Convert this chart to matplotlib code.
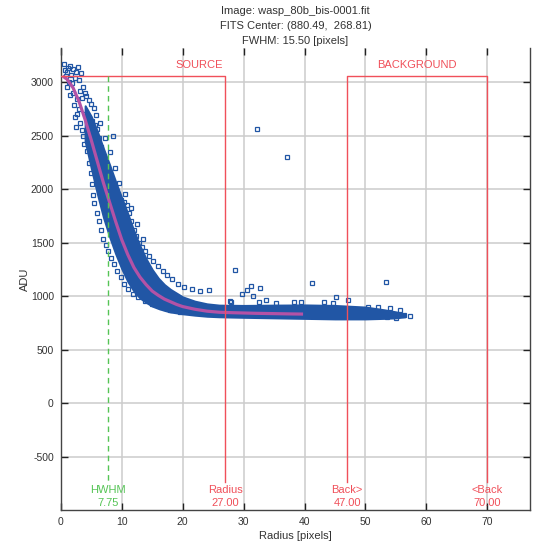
"""
Radial profile plot (AstroImageJ style) for wasp_80b_bis-0001.fit
"""

import matplotlib
matplotlib.use("Agg")
import matplotlib.pyplot as plt

plt.rcParams["font.family"] = ["Liberation Sans", "DejaVu Sans"]
plt.rcParams["axes.unicode_minus"] = False

# --- data --------------------------------------------------------------
title_lines = [
    "Image: wasp_80b_bis-0001.fit",
    "FITS Center: (880.49,  268.81)",
    "FWHM: 15.50 [pixels]",
]

# mean radial profile (magenta line)
mean_r = [0.5, 1, 2, 3, 4, 5, 6, 7, 8, 9, 10, 11, 12, 13, 14, 15, 16, 17, 18, 19,
          20, 22, 24, 26, 28, 30, 32, 34, 36, 38, 39.5]
mean_adu = [3050, 3030, 2950, 2820, 2650, 2460, 2260, 2060, 1880, 1700, 1530, 1390,
            1270, 1180, 1110, 1050, 1010, 975, 950, 925, 905, 880, 862, 852, 848,
            845, 842, 840, 838, 836, 835]

# dense core of pixel samples (solid blue band)
band_r = [4, 5, 6, 7, 8, 9, 10, 11, 12, 13, 14, 15, 16, 17, 18, 20, 22, 24,
          26, 30, 35, 40, 45, 50, 53, 55, 56.5]
band_low = [2450, 2200, 1960, 1740, 1560, 1400, 1260, 1140, 1050, 985,
            945, 910, 888, 870, 855, 838, 825, 815, 810, 805, 800, 795, 790, 790,
            795, 800, 810]
band_high = [2780, 2680, 2540, 2380, 2230, 2070, 1920, 1770, 1610, 1470,
             1350, 1250, 1170, 1110, 1065, 995, 955, 930, 918, 915, 918, 920, 915,
             900, 875, 855, 835]

# individual pixel samples (open squares)
pix_r = [0.6, 1.2, 1.5, 2.0, 2.5, 2.8, 3.3, 0.9, 1.3, 1.8, 3.0, 3.6, 3.9, 4.2, 4.6,
         4.9, 5.4, 5.8, 1.5, 2.2, 2.6, 3.1, 3.4, 2.5, 3.8, 4.3,
         5.2, 5.6, 6.0, 6.2, 8.6, 6.6, 7.0, 7.4, 7.7, 8.2, 8.7, 9.2, 9.8, 10.4, 10.8,
         11.2, 11.6, 12.0, 12.4, 12.9, 13.3, 13.8, 14.5, 15.2, 16.0, 16.8, 17.4, 18.3,
         19.2, 20.2, 21.5, 22.8,
         4.6, 4.9, 5.1, 5.3, 5.5, 5.9, 6.2, 6.6, 7.0, 7.4, 7.8, 8.3, 8.8, 9.3, 9.8,
         10.4, 11.0, 11.8, 12.7, 13.8, 15.0, 16.5, 18.0, 19.5,
         1.0, 2.3, 3.5, 4.0, 2.0, 3.0, 1.1, 2.7, 0.7, 1.7, 3.2, 4.4, 2.4, 3.7,
         6.4, 7.2, 8.0, 8.9, 9.6, 10.6, 11.5, 12.5, 13.5,
         32.2, 37.2, 28.6, 24.3, 29.7, 30.6, 31.2, 31.6, 32.7, 32.6, 33.7, 41.3, 45.1,
         53.3, 47.2, 27.9, 35.4, 38.2, 39.5, 43.2, 44.7, 27.8,
         50.5, 52.0, 54.0, 55.6, 56.4, 57.3, 55.0, 53.5]
pix_adu = [3170, 3130, 3150, 3120, 3100, 3140, 3090, 3060, 3000, 2990, 3020, 2960,
           2900, 2870, 2830, 2800, 2757, 2695, 2880, 2790, 2700, 2620, 2550, 2580,
           2420, 2360,
           2640, 2600, 2560, 2480, 2500, 2400, 2300, 2220, 2150, 2080, 2000, 1950,
           1900, 1880, 1850, 1780, 1700, 1620, 1560, 1500, 1460, 1420, 1380, 1330,
           1280, 1240, 1200, 1160, 1120, 1090, 1070, 1050,
           2250, 2150, 2050, 1950, 1870, 1780, 1700, 1620, 1540, 1480, 1420, 1360,
           1300, 1240, 1180, 1120, 1070, 1020, 990, 960, 930, 900, 875, 855,
           3100, 3040, 2850, 2700, 2900, 2750, 2960, 2840, 3110, 3070, 2920, 2620,
           2680, 2500,
           2620, 2480, 2350, 2200, 2060, 1960, 1830, 1680, 1540,
           2560, 2306, 1242, 1061, 1021, 1061, 1099, 1008, 1080, 952, 968, 1124, 993,
           1133, 962, 947, 937, 947, 952, 943, 937, 958,
           905, 900, 890, 870, 830, 815, 800, 805]

# apertures
hwhm = 7.75
r_source = 27.00
r_back_in = 47.00
r_back_out = 70.00
ap_level = 3059
ap_bottom = -731

x_ticks = [0, 10, 20, 30, 40, 50, 60, 70]
y_ticks = [-500, 0, 500, 1000, 1500, 2000, 2500, 3000]

# --- styling -------------------------------------------------------------
BLUE = "#2156a5"
MAGENTA = "#b352a6"
RED = "#f0505a"
GREEN = "#55c455"
GRID = "#cccccc"
TXT = "#333333"

fig = plt.figure(figsize=(5.37, 5.43), dpi=100)
ax = fig.add_axes([0.1132, 0.0608, 0.8737, 0.8508])

ax.set_xlim(0, 77)
ax.set_ylim(-995, 3320)
ax.set_xticks(x_ticks)
ax.set_yticks(y_ticks)
ax.grid(True, color=GRID, linewidth=1.1, zorder=0)
ax.set_axisbelow(True)
ax.tick_params(direction="in", length=5, width=1, top=True, right=True,
               labelsize=7.5, labelcolor=TXT, color="#222222", pad=5)
for s in ax.spines.values():
    s.set_color("#444444")
    s.set_linewidth(1.0)
ax.spines["top"].set_visible(False)

# pixel samples
ax.fill_between(band_r, band_low, band_high, color=BLUE, linewidth=1.5,
                edgecolor=BLUE, zorder=2)
ax.plot(pix_r, pix_adu, linestyle="none", marker="s", markersize=3.4,
        markerfacecolor="none", markeredgecolor=BLUE, markeredgewidth=0.9, zorder=3)

# mean profile
ax.plot(mean_r, mean_adu, color=MAGENTA, linewidth=2.3, zorder=4)

# apertures
ax.plot([0, r_source, r_source], [ap_level, ap_level, ap_bottom], color=RED,
        linewidth=1.0, zorder=5)
ax.plot([r_back_in, r_back_in, r_back_out, r_back_out],
        [ap_bottom, ap_level, ap_level, ap_bottom], color=RED, linewidth=1.0, zorder=5)
ax.plot([hwhm, hwhm], [ap_level, ap_bottom], color=GREEN, linewidth=1.0,
        linestyle=(0, (4, 3)), zorder=5)

ax.text(22.8, ap_level + 60, "SOURCE", color=RED, fontsize=8, ha="center", va="bottom")
ax.text((r_back_in + r_back_out) / 2, ap_level + 60, "BACKGROUND", color=RED,
        fontsize=8, ha="center", va="bottom")

labels = [
    (hwhm, "HWHM", GREEN),
    (r_source, "Radius", RED),
    (r_back_in, "Back>", RED),
    (r_back_out, "<Back", RED),
]
for xv, name, col in labels:
    ax.text(xv, -805, name, color=col, fontsize=8, ha="center", va="center")
    ax.text(xv, -926, f"{xv:.2f}", color=col, fontsize=8, ha="center", va="center")

ax.set_xlabel("Radius [pixels]", fontsize=8, color=TXT, labelpad=3)
ax.set_ylabel("ADU", fontsize=8, color=TXT, labelpad=0.5)

cx = 0.1132 + 0.8737 / 2
for i, line in enumerate(title_lines):
    fig.text(cx, 1 - (10.5 + 15.5 * i) / 543, line, fontsize=8, color=TXT,
             ha="center", va="center")

fig.savefig("out.png", dpi=100)
